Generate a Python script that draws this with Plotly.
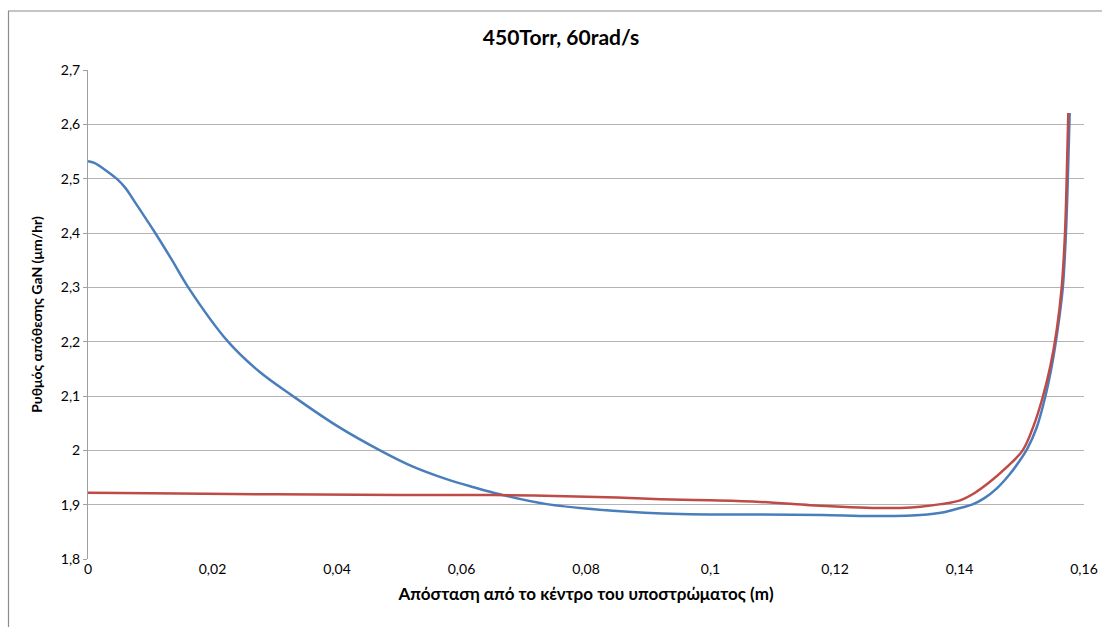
import plotly.graph_objects as go

# Blue series
blue_x = [0.0, 0.001, 0.003, 0.0046, 0.006, 0.0073, 0.0108, 0.0135, 0.0161, 0.0225,
          0.0275, 0.0329, 0.040, 0.0469, 0.0522, 0.0576, 0.062, 0.0662, 0.0737, 0.0843,
          0.0951, 0.108, 0.118, 0.126, 0.1337, 0.1375, 0.1401, 0.142, 0.144, 0.146,
          0.148, 0.1495, 0.1509, 0.1524, 0.1537, 0.1549, 0.1558, 0.1566, 0.1571, 0.1574,
          0.1577]
blue_y = [2.532, 2.529, 2.514, 2.500, 2.483, 2.461, 2.400, 2.350, 2.300, 2.200,
          2.145, 2.100, 2.045, 2.000, 1.970, 1.947, 1.932, 1.919, 1.901, 1.889,
          1.883, 1.882, 1.881, 1.879, 1.881, 1.886, 1.894, 1.900, 1.912, 1.930,
          1.955, 1.978, 2.003, 2.042, 2.095, 2.160, 2.225, 2.300, 2.400, 2.500,
          2.621]

# Red series
red_x = [0.0, 0.01, 0.03, 0.05, 0.065, 0.075, 0.085, 0.092, 0.100, 0.108,
         0.116, 0.121, 0.126, 0.1305, 0.1337, 0.137, 0.1401, 0.1425, 0.1449, 0.1475,
         0.15015, 0.1519, 0.1533, 0.1546, 0.1556, 0.15642, 0.15695, 0.15722, 0.15748]
red_y = [1.922, 1.921, 1.919, 1.918, 1.918, 1.916, 1.913, 1.910, 1.908, 1.905,
         1.899, 1.896, 1.894, 1.894, 1.896, 1.901, 1.908, 1.922, 1.942, 1.968,
         2.000, 2.045, 2.095, 2.155, 2.220, 2.300, 2.400, 2.500, 2.621]

x_ticks = [0, 0.02, 0.04, 0.06, 0.08, 0.1, 0.12, 0.14, 0.16]
y_ticks = [1.8, 1.9, 2.0, 2.1, 2.2, 2.3, 2.4, 2.5, 2.6, 2.7]

x_ticktext = ["0", "0,02", "0,04", "0,06", "0,08", "0,1", "0,12", "0,14", "0,16"]
y_ticktext = ["1,8", "1,9", "2", "2,1", "2,2", "2,3", "2,4", "2,5", "2,6", "2,7"]

font_family = "Lato, Open Sans, Liberation Sans, DejaVu Sans, sans-serif"

fig = go.Figure()
fig.add_trace(go.Scatter(x=blue_x, y=blue_y, mode="lines",
                         line=dict(color="#4A7EBB", width=2.5, shape="spline", smoothing=1.0),
                         showlegend=False, hoverinfo="x+y"))
fig.add_trace(go.Scatter(x=red_x, y=red_y, mode="lines",
                         line=dict(color="#BE4B48", width=2.5, shape="spline", smoothing=1.0),
                         showlegend=False, hoverinfo="x+y"))

W, H = 1102, 627
L, R, T, B = 88, 1084, 70, 559
pw, ph = R - L, B - T

def px(xp):
    return (xp - L) / pw

def py(yp):
    return (B - yp) / ph

fig.update_layout(
    width=W, height=H,
    margin=dict(l=L, r=W - R, t=T, b=H - B, autoexpand=False),
    paper_bgcolor="white", plot_bgcolor="white",
    font=dict(family=font_family, size=14, color="#000000"),
    title=dict(text="<b>450Torr, 60rad/s</b>", x=px(561), xref="paper", xanchor="center",
               y=1 - 38 / H, yanchor="middle", font=dict(size=21, color="#000000")),
    xaxis=dict(range=[0, 0.16], tickvals=x_ticks, ticktext=x_ticktext,
               showgrid=False, zeroline=False, showline=False, automargin=False,
               ticks="", ticklen=0, tickfont=dict(size=14),
               title=dict(text="<b>Απόσταση από το κέντρο του υποστρώματος (m)</b>",
                          font=dict(size=17), standoff=12)),
    yaxis=dict(range=[1.8, 2.7], tickvals=y_ticks, ticktext=y_ticktext,
               showgrid=True, gridcolor="#B4B4B4", gridwidth=1, automargin=False,
               zeroline=False, showline=True, linecolor="#A0A0A0", linewidth=1,
               ticks="outside", ticklen=4, tickcolor="#A0A0A0",
               tickfont=dict(size=14),
               title=dict(text="<b>Ρυθμός απόθεσης GaN (μm/hr)</b>",
                          font=dict(size=14), standoff=14)),
    shapes=[
        dict(type="line", xref="paper", yref="paper",
             x0=px(8), x1=px(W + 20), y0=py(11), y1=py(11),
             line=dict(color="#8C8C8C", width=1.2)),
        dict(type="line", xref="paper", yref="paper",
             x0=px(8.5), x1=px(8.5), y0=py(11), y1=py(H + 20),
             line=dict(color="#8C8C8C", width=1.2)),
    ],
)

fig.write_html("out.html",
               config={"displayModeBar": False},
               post_script="document.body.style.margin='0';document.body.style.overflow='hidden';")
